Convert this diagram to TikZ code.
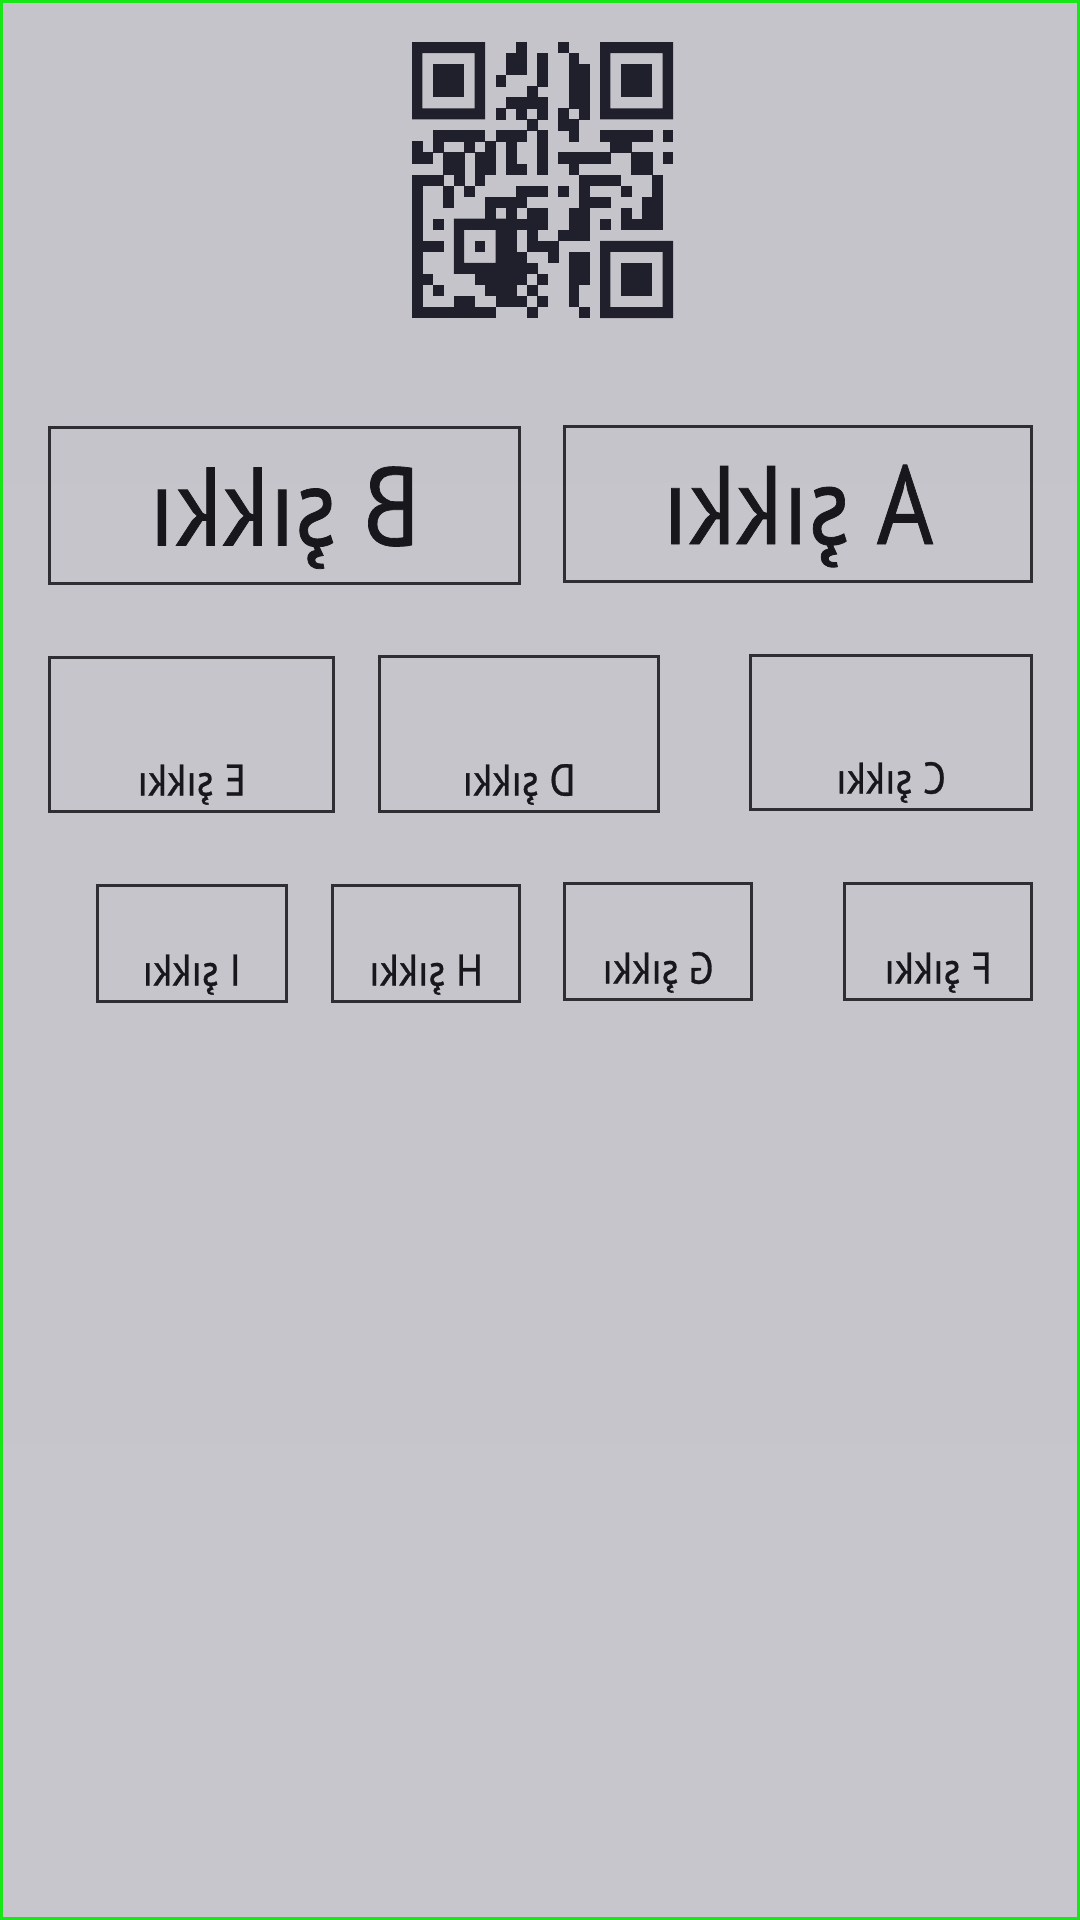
\documentclass[tikz,border=0pt]{standalone}
\usepackage{graphicx}
\usepackage{fontspec}
\setmainfont{PT Sans}
\newfontfamily\labelfont[FakeBold=0.7]{PT Sans}
\usetikzlibrary{positioning}

\definecolor{paper}{HTML}{C5C4CA}
\definecolor{papermid}{HTML}{CCC8CA}
\definecolor{paperlow}{HTML}{C7C6CC}
\definecolor{boxline}{HTML}{2E2E33}
\definecolor{ink}{HTML}{18181C}
\definecolor{qrink}{HTML}{1F202B}
\definecolor{frame}{HTML}{19E619}

\tikzstyle{block} = [draw=boxline, rectangle, line width=0.03cm, inner sep=0pt]
\tikzstyle{biglabel} = [inner sep=0pt, text=ink, font=\labelfont\fontsize{31.7pt}{36pt}\selectfont]
\tikzstyle{smalllabel} = [inner sep=0pt, text=ink, font=\labelfont\fontsize{12.6pt}{15pt}\selectfont]
\tikzstyle{module} = [fill=qrink]

\newcommand{\bigmirror}[1]{\scalebox{-0.88}[1]{#1}}
\newcommand{\smallmirror}[1]{\scalebox{-0.90}[1]{#1}}

\begin{document}
\begin{tikzpicture}[x=0.01cm, y=-0.01cm, >=latex]
    \useasboundingbox (0,0) rectangle (1080,1920);
    \shade [top color=paper, middle color=papermid, bottom color=paperlow] (0,0) rectangle (1080,1920);
    \draw [frame, line width=0.03cm] (1.5,1.5) rectangle (1078.5,1918.5);

    % QR code
    \begin{scope}[shift={(412,42)}, x=0.1044cm, y=-0.1104cm]
        \foreach \ox/\oy in {0/0, 18/0, 18/18} {
            \fill [module, even odd rule] (\ox,\oy) rectangle ++(7,7) (\ox+1,\oy+1) rectangle ++(5,5);
            \fill [module] (\ox+2,\oy+2) rectangle ++(3,3);
        }
        \fill [module, even odd rule] (4,16) rectangle ++(5,5) (5,17) rectangle ++(3,3);
        \fill [module] (6,18) rectangle ++(1,1);
        \foreach \r/\cl in {0/{10,14}, 1/{9,10,12,15}, 2/{9,10,12,15,16},
            3/{8,12,15,16}, 4/{11,15,16}, 5/{9,10,11,12,15,16}, 6/{8,10,12,14,16},
            7/{11,14,15}, 8/{2,3,4,5,6,8,9,10,12,15,18,19,20,21,22,24},
            9/{0,2,5,7,9,12,19,20}, 10/{0,1,3,4,6,7,9,12,14,15,16,17,18,21,22,24},
            11/{3,4,6,7,9,10,12,15,21,22}, 12/{0,1,2,4,6,16,17,18,19,23},
            13/{0,3,5,10,11,12,14,16,20,23}, 14/{0,3,7,8,9,10,16,17,18,22,23},
            15/{0,7,9,11,12,15,16,20,22,23}, 16/{0,2,9,10,11,12,15,16,18,20,21,22,23},
            17/{0,9,11,14,15,16}, 18/{0,1,2,9,11,12,13}, 19/{0,9,10,13,15,16},
            20/{0,9,10,11,15,16}, 21/{0,1,6,7,8,9,10,12,15,16},
            22/{0,2,7,8,9,11,15}, 23/{0,4,5,8,9,10,12,15},
            24/{0,1,2,3,4,5,6,7,11,16}} {
            \foreach \c in \cl
                \fill [module] (\c,\r) rectangle ++(1.03,1.03);
        }
    \end{scope}

    % answer boxes
    \node [block, minimum width=4.66cm, minimum height=1.54cm] (optA) at (798,504) {};
    \node [block, minimum width=4.69cm, minimum height=1.55cm] (optB) at (284.5,505.5) {};
    \node [block, minimum width=2.80cm, minimum height=1.53cm] (optC) at (891,732.5) {};
    \node [block, minimum width=2.795cm, minimum height=1.54cm] (optD) at (519,734) {};
    \node [block, minimum width=2.83cm, minimum height=1.53cm] (optE) at (191.5,734.5) {};
    \node [block, minimum width=1.86cm, minimum height=1.15cm] (optF) at (938,941.5) {};
    \node [block, minimum width=1.86cm, minimum height=1.15cm] (optG) at (658,941.5) {};
    \node [block, minimum width=1.86cm, minimum height=1.15cm] (optH) at (426,943.5) {};
    \node [block, minimum width=1.885cm, minimum height=1.15cm] (optI) at (191.75,943.5) {};

    % mirrored labels
    \node [biglabel, anchor=base, yshift=-0.40cm] (txtA) at (optA.center) {\bigmirror{A şıkkı}};
    \node [biglabel, anchor=base, yshift=-0.40cm] (txtB) at (optB.center) {\bigmirror{B şıkkı}};
    \node [smalllabel, anchor=base, yshift=0.17cm] (txtC) at (optC.south) {\smallmirror{C şıkkı}};
    \node [smalllabel, anchor=base, yshift=0.17cm] (txtD) at (optD.south) {\smallmirror{D şıkkı}};
    \node [smalllabel, anchor=base, yshift=0.17cm] (txtE) at (optE.south) {\smallmirror{E şıkkı}};
    \node [smalllabel, anchor=base, yshift=0.17cm] (txtF) at (optF.south) {\smallmirror{F şıkkı}};
    \node [smalllabel, anchor=base, yshift=0.17cm] (txtG) at (optG.south) {\smallmirror{G şıkkı}};
    \node [smalllabel, anchor=base, yshift=0.17cm] (txtH) at (optH.south) {\smallmirror{H şıkkı}};
    \node [smalllabel, anchor=base, yshift=0.17cm] (txtI) at (optI.south) {\smallmirror{I şıkkı}};
\end{tikzpicture}
\end{document}
